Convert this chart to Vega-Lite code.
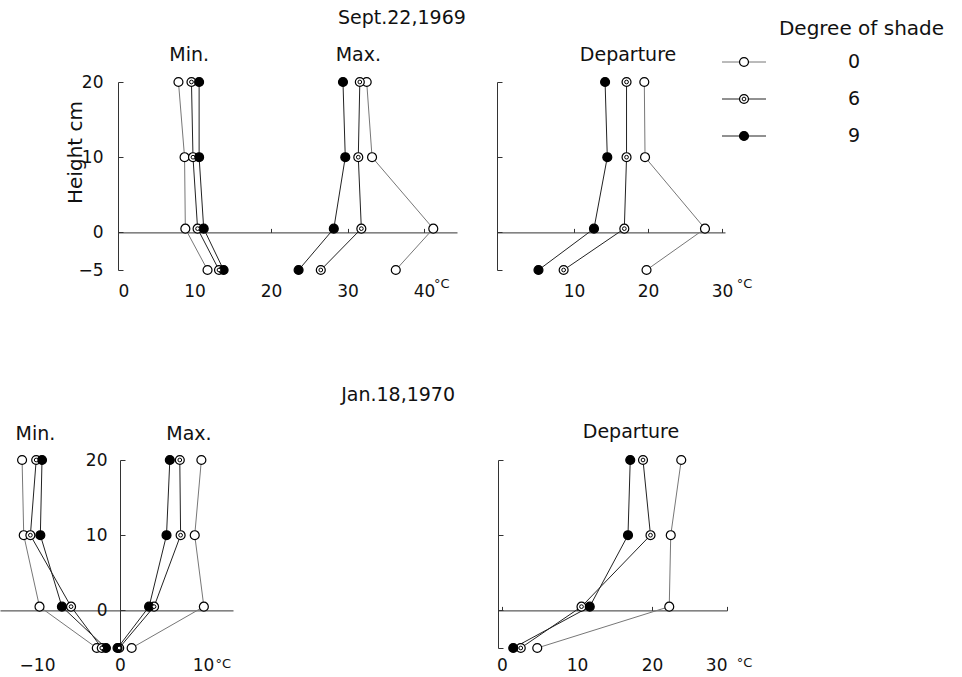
{
  "$schema": "https://vega.github.io/schema/vega-lite/v6.json",
  "width": 962,
  "height": 677,
  "autosize": {"type": "none"},
  "padding": 0,
  "background": "white",
  "config": {
    "font": "DejaVu Sans",
    "view": {"stroke": null},
    "axis": {"grid": false, "domainColor": "#333", "tickColor": "#333", "labelColor": "#111", "labelFont": "DejaVu Sans", "labelFontSize": 17, "titleFont": "DejaVu Sans", "titleFontWeight": "normal", "titleColor": "#111"},
    "text": {"font": "DejaVu Sans", "color": "#111"}
  },
  "datasets": {
    "pts": [
      {"d":"1969","p":"min","s":"0","h":20,"t":7.9},{"d":"1969","p":"min","s":"0","h":10,"t":8.7},{"d":"1969","p":"min","s":"0","h":0.5,"t":8.8},{"d":"1969","p":"min","s":"0","h":-5,"t":11.7},
      {"d":"1969","p":"min","s":"6","h":20,"t":9.6},{"d":"1969","p":"min","s":"6","h":10,"t":9.8},{"d":"1969","p":"min","s":"6","h":0.5,"t":10.4},{"d":"1969","p":"min","s":"6","h":-5,"t":13.2},
      {"d":"1969","p":"min","s":"9","h":20,"t":10.6},{"d":"1969","p":"min","s":"9","h":10,"t":10.6},{"d":"1969","p":"min","s":"9","h":0.5,"t":11.2},{"d":"1969","p":"min","s":"9","h":-5,"t":13.8},
      {"d":"1969","p":"max","s":"0","h":20,"t":32.5},{"d":"1969","p":"max","s":"0","h":10,"t":33.2},{"d":"1969","p":"max","s":"0","h":0.5,"t":41.2},{"d":"1969","p":"max","s":"0","h":-5,"t":36.3},
      {"d":"1969","p":"max","s":"6","h":20,"t":31.6},{"d":"1969","p":"max","s":"6","h":10,"t":31.4},{"d":"1969","p":"max","s":"6","h":0.5,"t":31.8},{"d":"1969","p":"max","s":"6","h":-5,"t":26.5},
      {"d":"1969","p":"max","s":"9","h":20,"t":29.4},{"d":"1969","p":"max","s":"9","h":10,"t":29.7},{"d":"1969","p":"max","s":"9","h":0.5,"t":28.2},{"d":"1969","p":"max","s":"9","h":-5,"t":23.6},
      {"d":"1969","p":"dep","s":"0","h":20,"t":19.5},{"d":"1969","p":"dep","s":"0","h":10,"t":19.6},{"d":"1969","p":"dep","s":"0","h":0.5,"t":27.7},{"d":"1969","p":"dep","s":"0","h":-5,"t":19.8},
      {"d":"1969","p":"dep","s":"6","h":20,"t":17.1},{"d":"1969","p":"dep","s":"6","h":10,"t":17.1},{"d":"1969","p":"dep","s":"6","h":0.5,"t":16.8},{"d":"1969","p":"dep","s":"6","h":-5,"t":8.6},
      {"d":"1969","p":"dep","s":"9","h":20,"t":14.2},{"d":"1969","p":"dep","s":"9","h":10,"t":14.5},{"d":"1969","p":"dep","s":"9","h":0.5,"t":12.7},{"d":"1969","p":"dep","s":"9","h":-5,"t":5.2},
      {"d":"1970","p":"min","s":"0","h":20,"t":-11.8},{"d":"1970","p":"min","s":"0","h":10,"t":-11.6},{"d":"1970","p":"min","s":"0","h":0.5,"t":-9.7},{"d":"1970","p":"min","s":"0","h":-5,"t":-2.8},
      {"d":"1970","p":"min","s":"6","h":20,"t":-10.1},{"d":"1970","p":"min","s":"6","h":10,"t":-10.8},{"d":"1970","p":"min","s":"6","h":0.5,"t":-5.9},{"d":"1970","p":"min","s":"6","h":-5,"t":-2.2},
      {"d":"1970","p":"min","s":"9","h":20,"t":-9.4},{"d":"1970","p":"min","s":"9","h":10,"t":-9.6},{"d":"1970","p":"min","s":"9","h":0.5,"t":-7.0},{"d":"1970","p":"min","s":"9","h":-5,"t":-1.7},
      {"d":"1970","p":"max","s":"0","h":20,"t":9.8},{"d":"1970","p":"max","s":"0","h":10,"t":9.0},{"d":"1970","p":"max","s":"0","h":0.5,"t":10.1},{"d":"1970","p":"max","s":"0","h":-5,"t":1.4},
      {"d":"1970","p":"max","s":"6","h":20,"t":7.2},{"d":"1970","p":"max","s":"6","h":10,"t":7.3},{"d":"1970","p":"max","s":"6","h":0.5,"t":4.1},{"d":"1970","p":"max","s":"6","h":-5,"t":-0.1},
      {"d":"1970","p":"max","s":"9","h":20,"t":6.0},{"d":"1970","p":"max","s":"9","h":10,"t":5.6},{"d":"1970","p":"max","s":"9","h":0.5,"t":3.5},{"d":"1970","p":"max","s":"9","h":-5,"t":-0.3},
      {"d":"1970","p":"dep","s":"0","h":20,"t":23.9},{"d":"1970","p":"dep","s":"0","h":10,"t":22.5},{"d":"1970","p":"dep","s":"0","h":0.5,"t":22.3},{"d":"1970","p":"dep","s":"0","h":-5,"t":4.7},
      {"d":"1970","p":"dep","s":"6","h":20,"t":18.8},{"d":"1970","p":"dep","s":"6","h":10,"t":19.8},{"d":"1970","p":"dep","s":"6","h":0.5,"t":10.6},{"d":"1970","p":"dep","s":"6","h":-5,"t":2.5},
      {"d":"1970","p":"dep","s":"9","h":20,"t":17.1},{"d":"1970","p":"dep","s":"9","h":10,"t":16.8},{"d":"1970","p":"dep","s":"9","h":0.5,"t":11.7},{"d":"1970","p":"dep","s":"9","h":-5,"t":1.5}
    ],
    "leg": [{"s":"0"},{"s":"6"},{"s":"9"}],
    "one": [{}]
  },
  "layer": [
    {
      "data": {"name": "pts"},
      "transform": [{"filter": "datum.d === '1969' && datum.p !== 'dep'"}],
      "layer": [
        {"mark": {"type": "line", "strokeWidth": 1},
         "encoding": {
           "x": {"field": "t", "type": "quantitative", "scale": {"domain": [0, 44.3], "range": [118, 457], "nice": false, "zero": false},
                 "axis": {"orient": "bottom", "offset": -444.6, "values": [0, 10, 20, 30, 40], "tickSize": -4, "labelPadding": 55, "title": null}},
           "y": {"field": "h", "type": "quantitative", "scale": {"domain": [-5, 20], "range": [270, 82], "nice": false, "zero": false},
                 "axis": {"orient": "left", "offset": -118, "values": [-5, 0, 10, 20], "tickSize": -5, "labelPadding": 20, "title": "Height cm", "titleFontSize": 20, "titleX": -43, "titleY": 152, "titleAngle": 270, "titleAlign": "center", "titleBaseline": "middle"}},
           "detail": [{"field": "p"}, {"field": "s"}],
           "order": {"field": "h"},
           "stroke": {"condition": {"test": "datum.s === '0'", "value": "#777"}, "value": "#222"}
         }},
        {"mark": {"type": "circle", "size": 80, "stroke": "black", "strokeWidth": 1.2, "opacity": 1},
         "encoding": {"x": {"field": "t", "type": "quantitative"}, "y": {"field": "h", "type": "quantitative"},
           "fill": {"condition": {"test": "datum.s === '9'", "value": "black"}, "value": "white"}}},
        {"transform": [{"filter": "datum.s === '6'"}],
         "mark": {"type": "circle", "size": 14, "fill": "white", "stroke": "black", "strokeWidth": 1, "opacity": 1},
         "encoding": {"x": {"field": "t", "type": "quantitative"}, "y": {"field": "h", "type": "quantitative"}}},
        {"data": {"name": "one"}, "mark": {"type": "text", "fontSize": 19, "align": "center", "baseline": "middle"},
         "encoding": {"x": {"datum": 37.1}, "y": {"datum": 28.5}, "text": {"value": "Sept.22,1969"}}},
        {"data": {"name": "one"}, "mark": {"type": "text", "fontSize": 19, "align": "center", "baseline": "middle"},
         "encoding": {"x": {"datum": 9.3}, "y": {"datum": 23.6}, "text": {"value": "Min."}}},
        {"data": {"name": "one"}, "mark": {"type": "text", "fontSize": 19, "align": "center", "baseline": "middle"},
         "encoding": {"x": {"datum": 31.4}, "y": {"datum": 23.6}, "text": {"value": "Max."}}},
        {"data": {"name": "one"}, "mark": {"type": "text", "fontSize": 13, "align": "left", "baseline": "alphabetic"},
         "encoding": {"x": {"datum": 41.3}, "y": {"datum": -7.39}, "text": {"value": "°C"}}}
      ]
    },
    {
      "data": {"name": "pts"},
      "transform": [{"filter": "datum.d === '1969' && datum.p === 'dep'"}],
      "layer": [
        {"mark": {"type": "line", "strokeWidth": 1},
         "encoding": {
           "x": {"field": "t", "type": "quantitative", "scale": {"domain": [-0.405, 30.405], "range": [497, 725], "nice": false, "zero": false},
                 "axis": {"orient": "bottom", "offset": -444.6, "values": [10, 20, 30], "tickSize": -4, "labelPadding": 55, "title": null}},
           "y": {"field": "h", "type": "quantitative", "scale": {"domain": [-5, 20], "range": [270, 82], "nice": false, "zero": false},
                 "axis": {"orient": "left", "offset": -497, "values": [-5, 0, 10, 20], "tickSize": -5, "labels": false, "title": null}},
           "detail": [{"field": "s"}],
           "order": {"field": "h"},
           "stroke": {"condition": {"test": "datum.s === '0'", "value": "#777"}, "value": "#222"}
         }},
        {"mark": {"type": "circle", "size": 80, "stroke": "black", "strokeWidth": 1.2, "opacity": 1},
         "encoding": {"x": {"field": "t", "type": "quantitative"}, "y": {"field": "h", "type": "quantitative"},
           "fill": {"condition": {"test": "datum.s === '9'", "value": "black"}, "value": "white"}}},
        {"transform": [{"filter": "datum.s === '6'"}],
         "mark": {"type": "circle", "size": 14, "fill": "white", "stroke": "black", "strokeWidth": 1, "opacity": 1},
         "encoding": {"x": {"field": "t", "type": "quantitative"}, "y": {"field": "h", "type": "quantitative"}}},
        {"data": {"name": "one"}, "mark": {"type": "text", "fontSize": 19, "align": "center", "baseline": "middle"},
         "encoding": {"x": {"datum": 17.3}, "y": {"datum": 23.6}, "text": {"value": "Departure"}}},
        {"data": {"name": "one"}, "mark": {"type": "text", "fontSize": 13, "align": "left", "baseline": "alphabetic"},
         "encoding": {"x": {"datum": 32.0}, "y": {"datum": -7.39}, "text": {"value": "°C"}}}
      ]
    },
    {
      "data": {"name": "pts"},
      "transform": [{"filter": "datum.d === '1970' && datum.p !== 'dep'"}],
      "layer": [
        {"mark": {"type": "line", "strokeWidth": 1},
         "encoding": {
           "x": {"field": "t", "type": "quantitative", "scale": {"domain": [-14.46, 13.61], "range": [0, 233], "nice": false, "zero": false},
                 "axis": {"orient": "bottom", "offset": -66.6, "values": [-10, 0, 10], "tickSize": -4, "labelPadding": 51, "title": null}},
           "y": {"field": "h", "type": "quantitative", "scale": {"domain": [-5, 20], "range": [648, 460], "nice": false, "zero": false},
                 "axis": {"orient": "left", "offset": -120, "values": [0, 10, 20], "tickSize": -5, "labelPadding": 18, "title": null}},
           "detail": [{"field": "p"}, {"field": "s"}],
           "order": {"field": "h"},
           "stroke": {"condition": {"test": "datum.s === '0'", "value": "#777"}, "value": "#222"}
         }},
        {"mark": {"type": "circle", "size": 80, "stroke": "black", "strokeWidth": 1.2, "opacity": 1},
         "encoding": {"x": {"field": "t", "type": "quantitative"}, "y": {"field": "h", "type": "quantitative"},
           "fill": {"condition": {"test": "datum.s === '9'", "value": "black"}, "value": "white"}}},
        {"transform": [{"filter": "datum.s === '6'"}],
         "mark": {"type": "circle", "size": 14, "fill": "white", "stroke": "black", "strokeWidth": 1, "opacity": 1},
         "encoding": {"x": {"field": "t", "type": "quantitative"}, "y": {"field": "h", "type": "quantitative"}}},
        {"data": {"name": "one"}, "mark": {"type": "text", "fontSize": 19, "align": "center", "baseline": "middle"},
         "encoding": {"x": {"datum": 33.5}, "y": {"datum": 28.6}, "text": {"value": "Jan.18,1970"}}},
        {"data": {"name": "one"}, "mark": {"type": "text", "fontSize": 19, "align": "center", "baseline": "middle"},
         "encoding": {"x": {"datum": -10.2}, "y": {"datum": 23.5}, "text": {"value": "Min."}}},
        {"data": {"name": "one"}, "mark": {"type": "text", "fontSize": 19, "align": "center", "baseline": "middle"},
         "encoding": {"x": {"datum": 8.3}, "y": {"datum": 23.5}, "text": {"value": "Max."}}},
        {"data": {"name": "one"}, "mark": {"type": "text", "fontSize": 13, "align": "left", "baseline": "alphabetic"},
         "encoding": {"x": {"datum": 11.5}, "y": {"datum": -7.66}, "text": {"value": "°C"}}}
      ]
    },
    {
      "data": {"name": "pts"},
      "transform": [{"filter": "datum.d === '1970' && datum.p === 'dep'"}],
      "layer": [
        {"mark": {"type": "line", "strokeWidth": 1},
         "encoding": {
           "x": {"field": "t", "type": "quantitative", "scale": {"domain": [-0.533, 30.0], "range": [498, 727], "nice": false, "zero": false},
                 "axis": {"orient": "bottom", "offset": -66.6, "values": [0, 10, 20, 30], "tickSize": -4, "labelPadding": 51, "title": null}},
           "y": {"field": "h", "type": "quantitative", "scale": {"domain": [-5, 20], "range": [648, 460], "nice": false, "zero": false},
                 "axis": {"orient": "left", "offset": -498, "values": [-5, 0, 10, 20], "tickSize": -5, "labels": false, "title": null}},
           "detail": [{"field": "s"}],
           "order": {"field": "h"},
           "stroke": {"condition": {"test": "datum.s === '0'", "value": "#777"}, "value": "#222"}
         }},
        {"mark": {"type": "circle", "size": 80, "stroke": "black", "strokeWidth": 1.2, "opacity": 1},
         "encoding": {"x": {"field": "t", "type": "quantitative"}, "y": {"field": "h", "type": "quantitative"},
           "fill": {"condition": {"test": "datum.s === '9'", "value": "black"}, "value": "white"}}},
        {"transform": [{"filter": "datum.s === '6'"}],
         "mark": {"type": "circle", "size": 14, "fill": "white", "stroke": "black", "strokeWidth": 1, "opacity": 1},
         "encoding": {"x": {"field": "t", "type": "quantitative"}, "y": {"field": "h", "type": "quantitative"}}},
        {"data": {"name": "one"}, "mark": {"type": "text", "fontSize": 19, "align": "center", "baseline": "middle"},
         "encoding": {"x": {"datum": 17.2}, "y": {"datum": 23.7}, "text": {"value": "Departure"}}},
        {"data": {"name": "one"}, "mark": {"type": "text", "fontSize": 13, "align": "left", "baseline": "alphabetic"},
         "encoding": {"x": {"datum": 31.3}, "y": {"datum": -7.5}, "text": {"value": "°C"}}}
      ]
    },
    {
      "data": {"name": "leg"},
      "layer": [
        {"mark": {"type": "rule", "strokeWidth": 1},
         "encoding": {
           "x": {"datum": 0, "type": "quantitative", "scale": {"domain": [0, 1], "range": [722, 766], "nice": false, "zero": false},
                 "axis": {"orient": "top", "offset": 0, "labels": false, "ticks": false, "domain": false, "title": "Degree of shade", "titleFontSize": 20, "titleX": 861, "titleY": 28, "titleAlign": "center", "titleBaseline": "middle", "titleAngle": 0}},
           "x2": {"datum": 1},
           "y": {"field": "s", "type": "nominal", "scale": {"type": "point", "domain": ["0", "6", "9"], "range": [62, 136], "padding": 0}, "axis": null},
           "stroke": {"condition": {"test": "datum.s === '0'", "value": "#777"}, "value": "#222"}
         }},
        {"mark": {"type": "circle", "size": 80, "stroke": "black", "strokeWidth": 1.2, "opacity": 1},
         "encoding": {"x": {"datum": 0.5, "type": "quantitative"}, "y": {"field": "s", "type": "nominal"},
           "fill": {"condition": {"test": "datum.s === '9'", "value": "black"}, "value": "white"}}},
        {"transform": [{"filter": "datum.s === '6'"}],
         "mark": {"type": "circle", "size": 14, "fill": "white", "stroke": "black", "strokeWidth": 1, "opacity": 1},
         "encoding": {"x": {"datum": 0.5, "type": "quantitative"}, "y": {"field": "s", "type": "nominal"}}},
        {"mark": {"type": "text", "fontSize": 19, "align": "center", "baseline": "middle"},
         "encoding": {"x": {"datum": 3.0, "type": "quantitative"}, "y": {"field": "s", "type": "nominal"}, "text": {"field": "s"}}}
      ]
    }
  ],
  "resolve": {"scale": {"x": "independent", "y": "independent"}, "axis": {"x": "independent", "y": "independent"}}
}
